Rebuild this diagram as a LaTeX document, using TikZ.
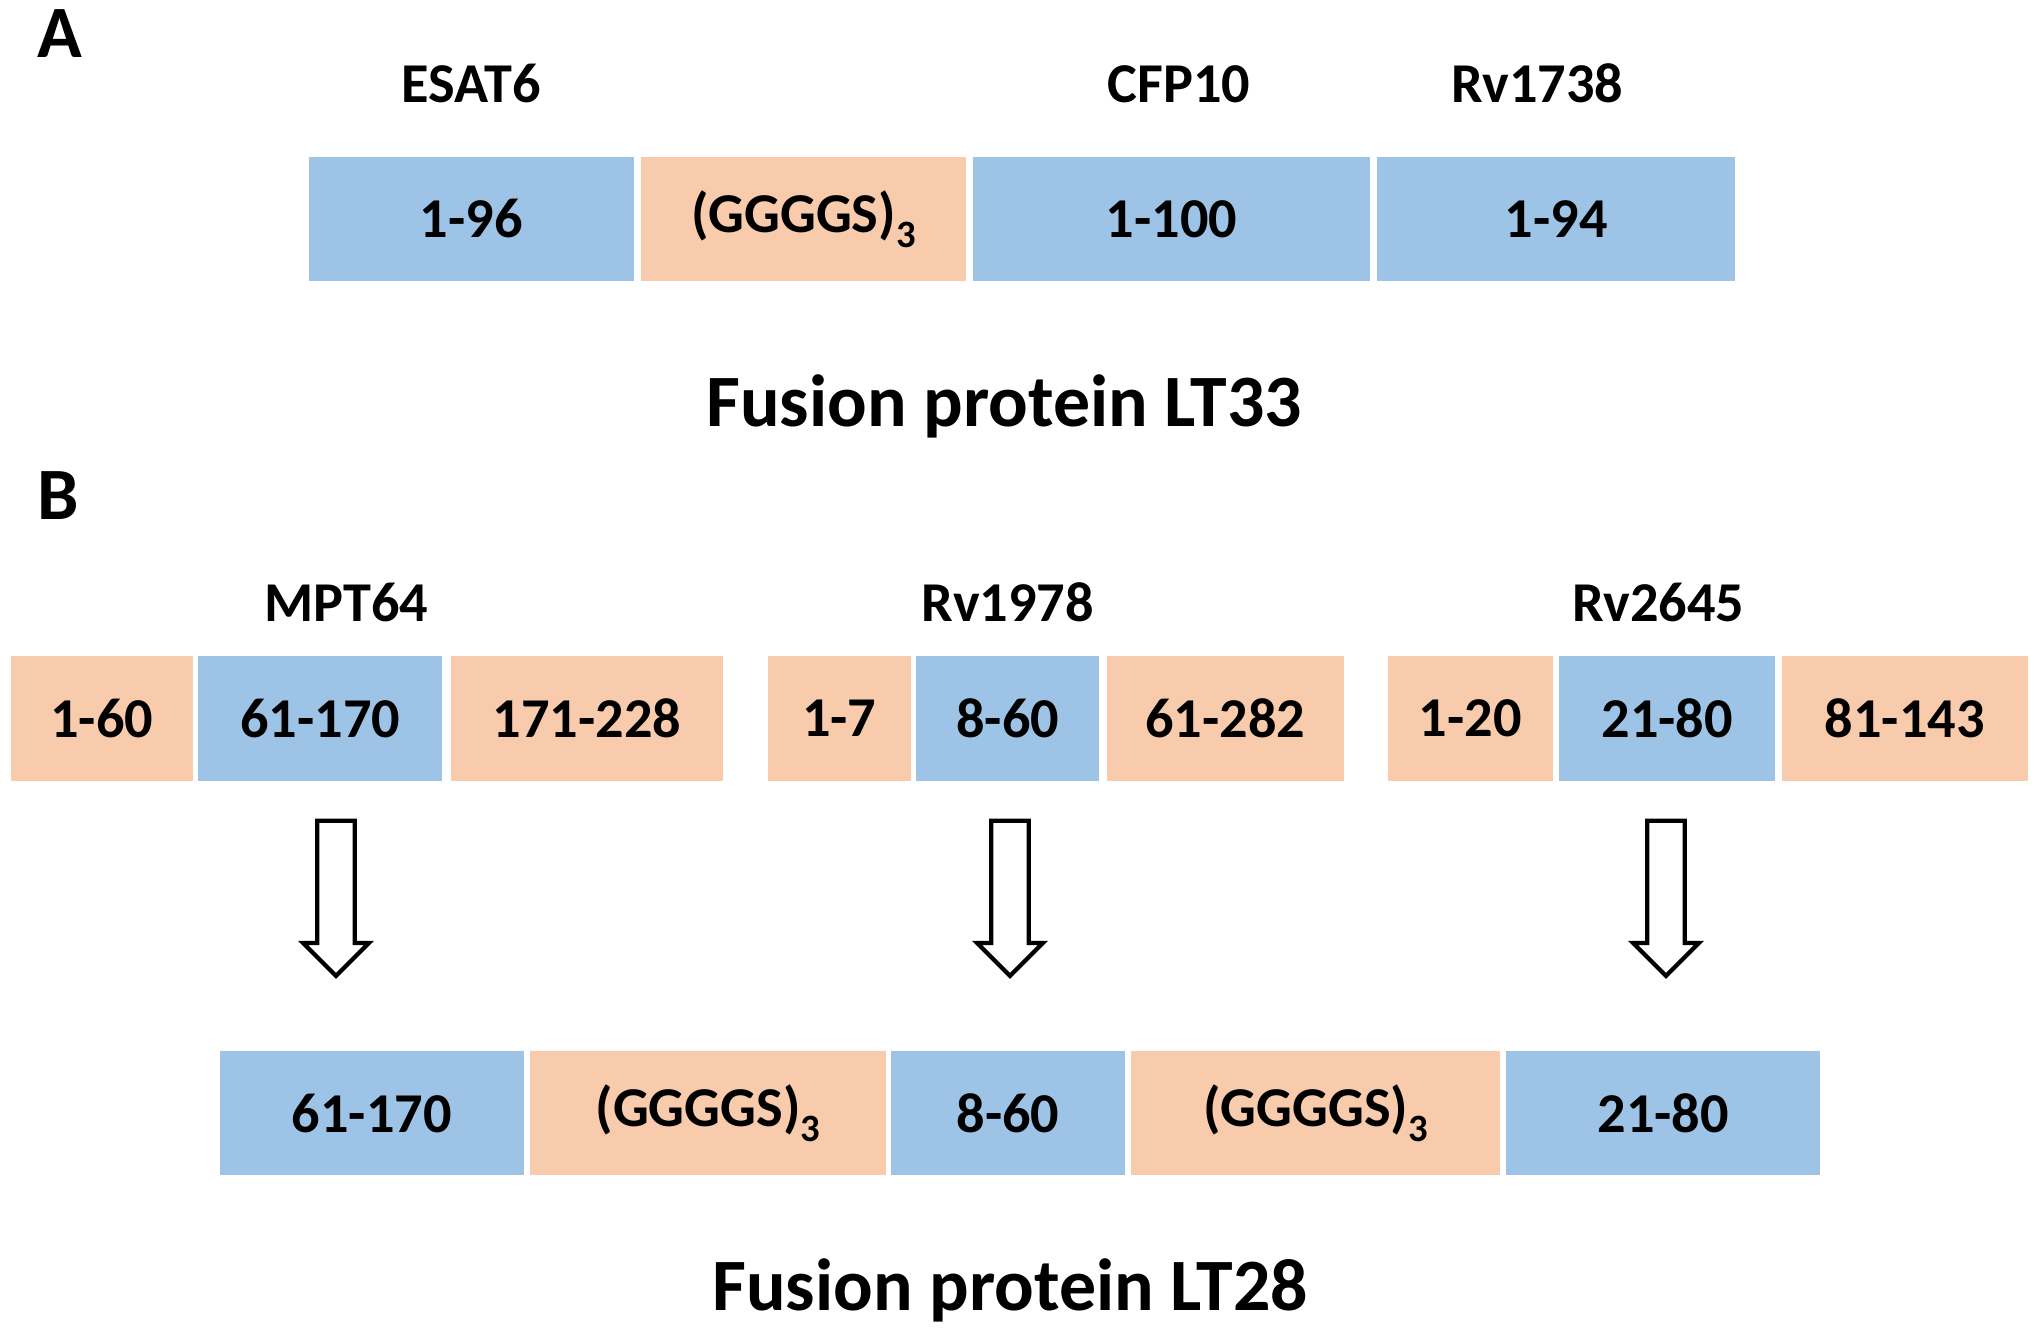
\documentclass[tikz,border=0pt]{standalone}
\usepackage{fontspec}
\setmainfont{Carlito}
\usetikzlibrary{positioning, shapes.arrows}

\definecolor{segblue}{HTML}{9DC3E6}
\definecolor{segpeach}{HTML}{F8CBAD}

\newcommand{\glysub}{\raisebox{-4.2pt}{\fontsize{11}{11}\selectfont 3}}

\begin{document}
\begin{tikzpicture}[
    x=0.01cm, y=-0.01cm,
    seg/.style={
        minimum height=1.24cm,
        inner sep=0pt,
        font=\fontsize{16}{19}\selectfont\bfseries,
    },
    core/.style={seg, fill=segblue},
    linker/.style={seg, fill=segpeach},
    protname/.style={
        font=\fontsize{16}{19}\selectfont\bfseries,
        anchor=south,
        inner sep=0pt,
        text depth=0pt,
    },
    heading/.style={
        font=\fontsize{21}{25}\selectfont\bfseries,
        anchor=base,
        inner sep=0pt,
    },
    blockarrow/.style={
        single arrow,
        draw,
        line width=1.2pt,
        shape border rotate=270,
        minimum width=0.66cm,
        minimum height=1.55cm,
        single arrow head extend=0.13cm,
        inner sep=0.15cm,
    }
]
    \useasboundingbox (0,0) rectangle (2036,1334);

    % Panel A
    \node[heading] (pa) at (60,58) {A};
    \node[core, anchor=west, minimum width=3.25cm] (a1) at (308,219) {1-96};
    \node[linker, minimum width=3.25cm, right=0.055cm of a1] (a2) {(GGGGS)\glysub};
    \node[core, minimum width=3.97cm, right=0.055cm of a2] (a3) {1-100};
    \node[core, minimum width=3.58cm, right=0.055cm of a3] (a4) {1-94};

    \node[protname, above=0.53cm of a1] {ESAT6};
    \node[protname, above=0.53cm of a3, xshift=0.075cm] {CFP10};
    \node[protname, above=0.53cm of a4, xshift=-0.19cm] {Rv1738};

    \node[heading] (lt33) at (1004,427) {Fusion protein LT33};

    % Panel B
    \node[heading] (pb) at (58,520) {B};

    % MPT64
    \node[linker, anchor=west, minimum width=1.82cm] (b1) at (10,718.5) {1-60};
    \node[core, minimum width=2.44cm, right=0.04cm of b1] (b2) {61-170};
    \node[linker, minimum width=2.72cm, right=0.07cm of b2] (b3) {171-228};
    % Rv1978
    \node[linker, anchor=west, minimum width=1.43cm] (c1) at (767,718.5) {1-7};
    \node[core, minimum width=1.83cm, right=0.04cm of c1] (c2) {8-60};
    \node[linker, minimum width=2.37cm, right=0.06cm of c2] (c3) {61-282};
    % Rv2645
    \node[linker, anchor=west, minimum width=1.65cm] (d1) at (1387,718.5) {1-20};
    \node[core, minimum width=2.16cm, right=0.05cm of d1] (d2) {21-80};
    \node[linker, minimum width=2.46cm, right=0.05cm of d2] (d3) {81-143};

    \node[protname, above=0.34cm of b2, xshift=0.26cm] {MPT64};
    \node[protname, above=0.34cm of c2] {Rv1978};
    \node[protname, above=0.34cm of d2, xshift=-0.09cm] {Rv2645};

    % arrows
    \node[blockarrow] (arr1) at (336,889) {};
    \node[blockarrow] (arr2) at (1010,889) {};
    \node[blockarrow] (arr3) at (1666,889) {};

    % LT28
    \node[core, anchor=west, minimum width=3.04cm] (e1) at (219,1113) {61-170};
    \node[linker, minimum width=3.55cm, right=0.05cm of e1] (e2) {(GGGGS)\glysub};
    \node[core, minimum width=2.34cm, right=0.04cm of e2] (e3) {8-60};
    \node[linker, minimum width=3.68cm, right=0.05cm of e3] (e4) {(GGGGS)\glysub};
    \node[core, minimum width=3.14cm, right=0.05cm of e4] (e5) {21-80};

    \node[heading] (lt28) at (1010,1310) {Fusion protein LT28};
\end{tikzpicture}
\end{document}
